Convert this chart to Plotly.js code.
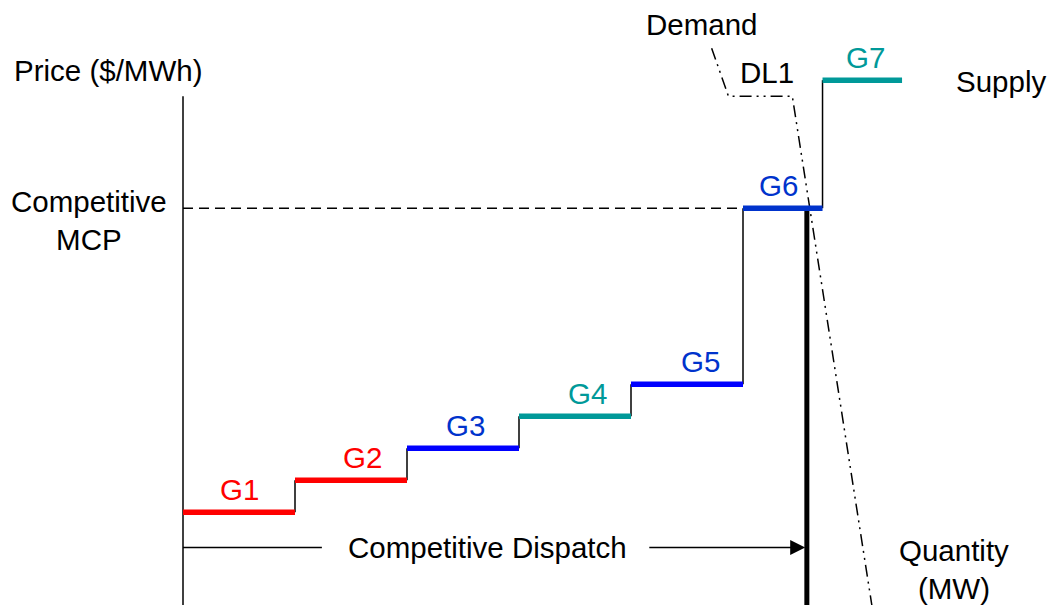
<!DOCTYPE html>
<html><head><meta charset="utf-8">
<script src="https://cdn.plot.ly/plotly-3.0.1.min.js"></script>
<style>html,body{margin:0;padding:0;background:#fff}#chart{width:1050px;height:605px}</style>
</head><body><div id="chart"></div>
<script>
// ---- data ----
const generators = ['G1','G2','G3','G4','G5','G6','G7'];
const capacityMW = [100,100,100,100,100,71,71];
const offerPrice = [29,39,49,59,69,124,164];
const demandQuantity = [472,487,544,615];
const demandPrice = [174,159,159,0];
const dispatchMW = 557;
const mcpPrice = 124;
const priceAxisTop = 159;
const dispatchArrowPrice = 18;

// ---- styles ----
const FONT = 'Liberation Sans, Arial, sans-serif';
const FS = 29.5;
const lineColors = ['#FF0000','#FF0000','#0000FF','#009999','#0000FF','#0033CC','#009999'];
const textColors = ['#FF0000','#FF0000','#0033CC','#009999','#0033CC','#0033CC','#009999'];
const labelXShift = [0,11,2,12,13,-4,3];

// cumulative quantities
const starts = [], ends = [];
let cum = 0;
capacityMW.forEach(c => { starts.push(cum); cum += c; ends.push(cum); });

const traces = [];
// MCP dashed line
traces.push({x:[0, starts[5]], y:[mcpPrice, mcpPrice], mode:'lines',
  line:{color:'#000', width:1.5, dash:'10px,6px'}, hoverinfo:'skip'});
// risers
const rx = [], ry = [];
for (let i = 0; i < generators.length - 1; i++) {
  rx.push(ends[i], ends[i], null); ry.push(offerPrice[i], offerPrice[i+1], null);
}
traces.push({x:rx, y:ry, mode:'lines', line:{color:'#000', width:1.5}, hoverinfo:'skip'});
// price axis
traces.push({x:[0,0], y:[0, priceAxisTop], mode:'lines', line:{color:'#000', width:1.5}, hoverinfo:'skip'});
// dispatch thick line
traces.push({x:[dispatchMW, dispatchMW], y:[0, mcpPrice], mode:'lines', line:{color:'#000', width:5}, hoverinfo:'skip'});
// demand
traces.push({x:demandQuantity, y:demandPrice, mode:'lines',
  line:{color:'#000', width:1.5, dash:'12px,5px,2px,5px,2px,5px'}, hoverinfo:'skip'});
// dispatch arrow left part
traces.push({x:[0, 124], y:[dispatchArrowPrice, dispatchArrowPrice], mode:'lines',
  line:{color:'#000', width:1.5}, hoverinfo:'skip'});
// generator segments
generators.forEach((g, i) => {
  traces.push({x:[starts[i], ends[i]], y:[offerPrice[i], offerPrice[i]], mode:'lines',
    line:{color:lineColors[i], width:5.5}, hoverinfo:'skip'});
});

const ann = [];
generators.forEach((g, i) => {
  ann.push({x:(starts[i]+ends[i])/2, y:offerPrice[i], text:g, showarrow:false,
    xanchor:'center', yanchor:'middle', yshift:23, xshift:labelXShift[i],
    font:{family:FONT, size:FS, color:textColors[i]}});
});
const txt = (x, y, text, extra) => Object.assign({x, y, text, showarrow:false, xanchor:'center', yanchor:'middle',
  font:{family:FONT, size:FS, color:'#000'}}, extra || {});
ann.push(txt(-67, 167, 'Price ($/MWh)'));
ann.push(txt(-84, 120, 'Competitive<br>MCP'));
ann.push(txt(463, 181.5, 'Demand'));
ann.push(txt(521, 166.5, 'DL1'));
ann.push(txt(730, 163.5, 'Supply'));
ann.push(txt(688, 11, 'Quantity<br>(MW)'));
ann.push(txt(272, dispatchArrowPrice, 'Competitive Dispatch'));
// dispatch arrow right part with head
ann.push({x:dispatchMW-1.5, y:dispatchArrowPrice, ax:415, ay:dispatchArrowPrice, axref:'x', ayref:'y',
  text:'', showarrow:true, arrowhead:2, arrowsize:2, arrowwidth:1.5, arrowcolor:'#000'});

const layout = {
  width:1050, height:605, margin:{l:0, r:0, t:0, b:0},
  paper_bgcolor:'#fff', plot_bgcolor:'#fff', showlegend:false,
  xaxis:{range:[-163.39, 774.1], visible:false, fixedrange:true},
  yaxis:{range:[0, 189.06], visible:false, fixedrange:true},
  annotations:ann
};
Plotly.newPlot('chart', traces, layout, {staticPlot:true, displayModeBar:false});
</script></body></html>
